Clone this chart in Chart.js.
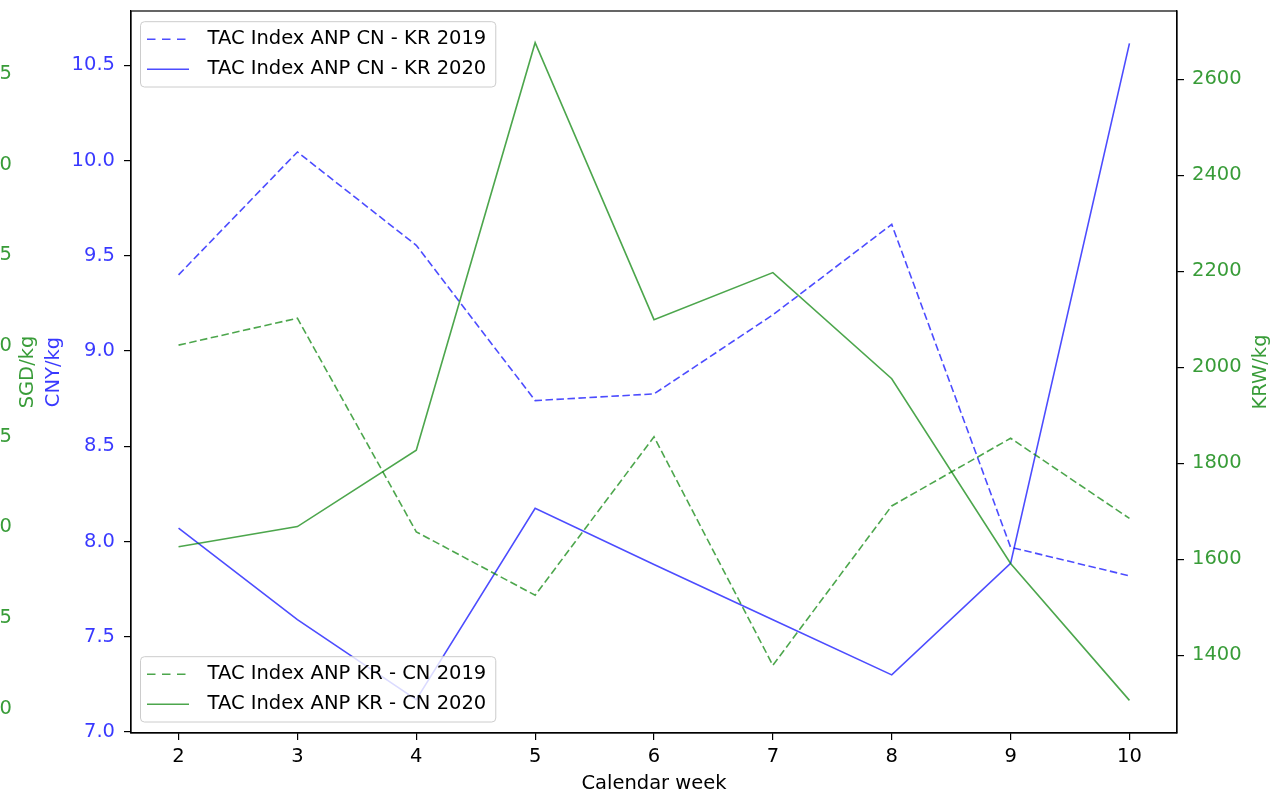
<!DOCTYPE html>
<html><head><meta charset="utf-8">
<script src="https://cdn.jsdelivr.net/npm/chart.js@4"></script>
<style>
html,body{margin:0;padding:0;background:#fff;overflow:hidden;width:1273px;height:792px;}
#wrap{position:absolute;left:-40px;top:0;width:1313px;height:792px;}
</style></head><body>
<div id="wrap"><canvas id="c" width="1313" height="792"></canvas></div>
<script>
// ---- data ----
const WEEKS = [2, 3, 4, 5, 6, 7, 8, 9, 10];
const CN_KR_2019 = [9.40, 10.045, 9.555, 8.74, 8.775, 9.19, 9.665, 7.97, 7.82];
const CN_KR_2020 = [8.07, 7.59, 7.17, 8.175, 7.88, 7.59, 7.30, 7.885, 10.615];
const KR_CN_2019 = [2046, 2102, 1657, 1525, 1855, 1379, 1711, 1852, 1685];
const KR_CN_2020 = [1626, 1668, 1827, 2676, 2099, 2197, 1976, 1591, 1306];
const CNY_TICKS = [7.0, 7.5, 8.0, 8.5, 9.0, 9.5, 10.0, 10.5];
const KRW_TICKS = [1400, 1600, 1800, 2000, 2200, 2400, 2600];
const SGD_TICKS = [1.0, 1.5, 2.0, 2.5, 3.0, 3.5, 4.0, 4.5];
const SERIES_LABELS = ['TAC Index ANP CN - KR 2019', 'TAC Index ANP CN - KR 2020',
                       'TAC Index ANP KR - CN 2019', 'TAC Index ANP KR - CN 2020'];
const X_TITLE = 'Calendar week';
const CNY_TITLE = 'CNY/kg';
const SGD_TITLE = 'SGD/kg';
const KRW_TITLE = 'KRW/kg';

// ---- styles ----
const FONT = 'DejaVu Sans';
const FS = 19.5;
const BLUE = 'rgba(0,0,255,0.7)';
const GREEN = 'rgba(0,128,0,0.7)';
const BLUE_T = 'rgba(0,0,255,0.78)';
const GREEN_T = 'rgba(0,128,0,0.78)';
const DASH = [7.5, 3.5];
const LEGEND_DASH = [8.5, 6.5];

Chart.defaults.font.family = FONT;
Chart.defaults.font.size = FS;
Chart.defaults.color = '#000';

const pts = arr => WEEKS.map((w, i) => ({x: w, y: arr[i]}));
const setTicks = arr => s => { s.ticks = arr.map(v => ({value: v})); };
const fixW = w => s => { s.width = w; s.paddingTop = 0; s.paddingBottom = 0; };
const axisGrid = {display: true, drawOnChartArea: false, drawTicks: true, tickLength: 7, color: '#000', lineWidth: 1.2};
const axisBorder = {display: true, color: '#000', width: 1.2};

const extras = {
  id: 'extras',
  afterDraw(chart) {
    const ctx = chart.ctx, ca = chart.chartArea;
    ctx.save();
    // frame
    ctx.strokeStyle = '#000'; ctx.lineWidth = 1.2;
    ctx.strokeRect(ca.left, ca.top, ca.right - ca.left, ca.bottom - ca.top);
    // right axis title (reads bottom-to-top)
    const k = chart.scales.yKRW;
    ctx.save();
    ctx.translate(k.left + 84, (ca.top + ca.bottom) / 2);
    ctx.rotate(-Math.PI / 2);
    ctx.font = FS + 'px "' + FONT + '"';
    ctx.fillStyle = GREEN_T; ctx.textAlign = 'center'; ctx.textBaseline = 'middle';
    ctx.fillText(KRW_TITLE, 0, 0);
    ctx.restore();
    // legends
    const ds = chart.data.datasets;
    drawLegend(ctx, ca.left + 9.5, ca.top + 10.7, [ds[0], ds[1]]);
    drawLegend(ctx, ca.left + 9.5, ca.bottom - 11 - 65.3, [ds[2], ds[3]]);
    ctx.restore();
  }
};

function drawLegend(ctx, x, y, items) {
  ctx.font = FS + 'px "' + FONT + '"';
  const tw = Math.max(...items.map(d => ctx.measureText(d.label).width));
  const w = 67 + tw + 9.5, h = 65.3;
  ctx.beginPath();
  ctx.roundRect(x, y, w, h, 4);
  ctx.fillStyle = 'rgba(255,255,255,0.8)';
  ctx.fill();
  ctx.strokeStyle = '#cccccc'; ctx.lineWidth = 1;
  ctx.stroke();
  items.forEach((d, i) => {
    const cy = y + 17.6 + i * 30;
    ctx.beginPath();
    ctx.setLineDash(d.borderDash && d.borderDash.length ? LEGEND_DASH : []);
    ctx.strokeStyle = d.borderColor; ctx.lineWidth = d.borderWidth;
    ctx.moveTo(x + 6.5, cy); ctx.lineTo(x + 48.5, cy);
    ctx.stroke();
    ctx.setLineDash([]);
    ctx.fillStyle = '#000'; ctx.textAlign = 'left'; ctx.textBaseline = 'middle';
    ctx.fillText(d.label, x + 67, cy);
  });
}

new Chart(document.getElementById('c'), {
  type: 'line',
  data: {
    datasets: [
      {label: SERIES_LABELS[0], data: pts(CN_KR_2019), yAxisID: 'yCNY', borderColor: BLUE, borderDash: DASH, order: 2},
      {label: SERIES_LABELS[1], data: pts(CN_KR_2020), yAxisID: 'yCNY', borderColor: BLUE, order: 2},
      {label: SERIES_LABELS[2], data: pts(KR_CN_2019), yAxisID: 'yKRW', borderColor: GREEN, borderDash: DASH, order: 1},
      {label: SERIES_LABELS[3], data: pts(KR_CN_2020), yAxisID: 'yKRW', borderColor: GREEN, order: 1}
    ].map(d => Object.assign({borderWidth: 1.6, pointRadius: 0, tension: 0, fill: false}, d))
  },
  options: {
    responsive: false,
    animation: false,
    devicePixelRatio: 1,
    layout: {padding: {top: 11, left: 0, right: 0, bottom: 0}},
    plugins: {legend: {display: false}, tooltip: {enabled: false}},
    scales: {
      x: {
        type: 'linear', position: 'bottom', min: 1.6, max: 10.4,
        afterBuildTicks: setTicks(WEEKS),
        afterFit: s => { s.height = 59; s.paddingLeft = 0; s.paddingRight = 0; },
        grid: axisGrid, border: axisBorder,
        ticks: {color: '#000', padding: 5, maxRotation: 0, autoSkip: false, callback: v => String(v)},
        title: {display: true, text: X_TITLE, color: '#000', padding: {top: 0, bottom: -4}}
      },
      ySGD: {
        type: 'linear', position: 'left', weight: 3, min: 0.865, max: 4.848,
        afterBuildTicks: setTicks(SGD_TICKS),
        afterFit: fixW(56),
        grid: {display: false, drawTicks: false}, border: {display: false},
        ticks: {color: GREEN_T, padding: 4, callback: v => v.toFixed(1)}
      },
      ySGDtitle: {
        type: 'linear', position: 'left', weight: 2, min: 0, max: 1,
        afterFit: fixW(24),
        grid: {display: false, drawTicks: false}, border: {display: false},
        ticks: {display: false},
        title: {display: true, text: SGD_TITLE, color: GREEN_T, padding: {top: 0, bottom: 0}}
      },
      yCNY: {
        type: 'linear', position: 'left', weight: 1, min: 6.995, max: 10.785,
        afterBuildTicks: setTicks(CNY_TICKS),
        afterFit: fixW(91),
        grid: axisGrid, border: axisBorder,
        ticks: {color: BLUE_T, padding: 9, callback: v => v.toFixed(1)},
        title: {display: true, text: CNY_TITLE, color: BLUE_T, padding: {top: 2.3, bottom: 0}}
      },
      yKRW: {
        type: 'linear', position: 'right', min: 1238, max: 2742,
        afterBuildTicks: setTicks(KRW_TICKS),
        afterFit: fixW(96),
        grid: axisGrid, border: axisBorder,
        ticks: {color: GREEN_T, padding: 8, callback: v => String(v)}
      }
    }
  },
  plugins: [extras]
});
</script>
</body></html>
